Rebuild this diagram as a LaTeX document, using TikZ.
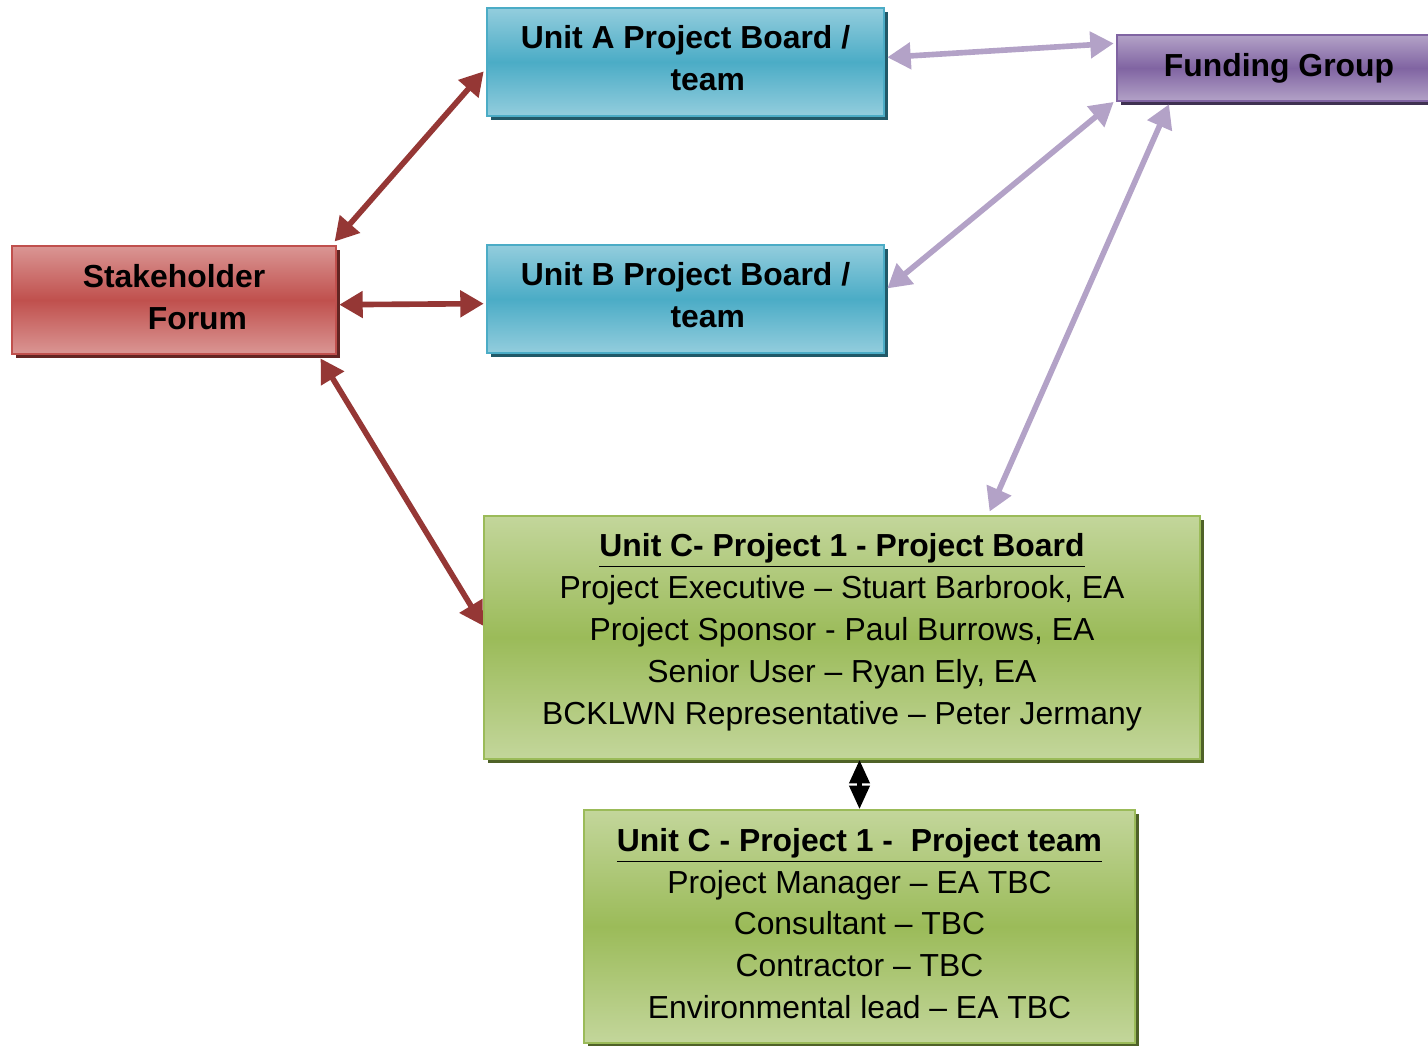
\documentclass[tikz,border=0pt]{standalone}
\usepackage{fontspec}
\setmainfont{Liberation Sans}
\usetikzlibrary{arrows.meta,shadows}

\definecolor{redlight}{HTML}{DA9694}
\definecolor{redmid}{HTML}{C0504D}
\definecolor{redshade}{HTML}{632523}
\definecolor{redarrow}{HTML}{953735}
\definecolor{bluelight}{HTML}{93CDDD}
\definecolor{bluemid}{HTML}{4BACC6}
\definecolor{blueshade}{HTML}{215968}
\definecolor{purplelight}{HTML}{B3A2C7}
\definecolor{purplemid}{HTML}{8064A2}
\definecolor{purpleshade}{HTML}{3F3151}
\definecolor{purplearrow}{HTML}{B3A2C7}
\definecolor{greenlight}{HTML}{C3D69B}
\definecolor{greenmid}{HTML}{9BBB59}
\definecolor{greenshade}{HTML}{4F6228}

\begin{document}
\begin{tikzpicture}[x=1.5cm,y=1.5cm,
    box/.style={line width=0.8pt, align=center, inner sep=0pt,
        font=\fontsize{13.6}{17.9}\selectfont},
    redbox/.style={box, draw=redmid, top color=redlight, bottom color=redlight,
        middle color=redmid, general shadow={fill=redshade, shadow xshift=1.8pt, shadow yshift=-1.8pt}},
    bluebox/.style={box, draw=bluemid, top color=bluelight, bottom color=bluelight,
        middle color=bluemid, general shadow={fill=blueshade, shadow xshift=1.8pt, shadow yshift=-1.8pt}},
    purplebox/.style={box, draw=purplemid, top color=purplelight, bottom color=purplelight,
        middle color=purplemid, general shadow={fill=purpleshade, shadow xshift=1.8pt, shadow yshift=-1.8pt}},
    greenbox/.style={box, draw=greenmid, top color=greenlight, bottom color=greenlight,
        middle color=greenmid, general shadow={fill=greenshade, shadow xshift=1.8pt, shadow yshift=-1.8pt}},
    bigtip/.tip={Triangle[length=10pt,width=11pt]},
    smalltip/.tip={Triangle[length=10pt,width=8.5pt]},
    redlink/.style={bigtip-bigtip, line width=2.4pt, draw=redarrow},
    purplelink/.style={bigtip-bigtip, line width=2.4pt, draw=purplearrow},
    blacklink/.style={smalltip-smalltip, line width=1.8pt, draw=black}]
    \useasboundingbox (0,0) rectangle (14.28,10.45);

    % Boxes
    \node[redbox, minimum width=4.86cm, minimum height=1.62cm, text depth=2.6pt] (forum) at (1.74,7.45)
        {\textbf{Stakeholder}\\\hspace*{20pt}\textbf{Forum}};
    \node[bluebox, minimum width=5.955cm, minimum height=1.62cm, text depth=3.4pt] (unita) at (6.855,9.83)
        {\textbf{Unit A Project Board /}\\\hspace*{19pt}\textbf{team}};
    \node[bluebox, minimum width=5.955cm, minimum height=1.62cm, text depth=3.4pt] (unitb) at (6.855,7.46)
        {\textbf{Unit B Project Board /}\\\hspace*{19pt}\textbf{team}};
    \node[purplebox, minimum width=4.86cm, minimum height=0.99cm] (funding) at (12.79,9.77)
        {\textbf{Funding Group}};
    \node[greenbox, minimum width=10.74cm, minimum height=3.645cm, text depth=7.2pt] (board) at (8.42,4.075)
        {\underline{\textbf{Unit C- Project 1 - Project Board}}\\
         Project Executive – Stuart Barbrook, EA\\
         Project Sponsor - Paul Burrows, EA\\
         Senior User – Ryan Ely, EA\\
         BCKLWN Representative – Peter Jermany};
    \node[greenbox, minimum width=8.265cm, minimum height=3.495cm, text depth=2.6pt] (team) at (8.595,1.185)
        {\underline{\textbf{Unit C - Project 1 -\ \ Project team}}\\
         Project Manager – EA TBC\\
         Consultant – TBC\\
         Contractor – TBC\\
         Environmental lead – EA TBC};

    % Links
    \draw[redlink] ([xshift=-1pt,yshift=1.5pt]forum.north east) -- ([xshift=-1pt,yshift=-4pt]unita.west);
    \draw[redlink] ([xshift=1pt,yshift=-2pt]forum.east) -- ([xshift=-1pt,yshift=-2pt]unitb.west);
    \draw[redlink] ([xshift=-7pt,yshift=-1.5pt]forum.south east) -- ([yshift=5pt]board.west);
    \draw[purplelink] ([xshift=1pt,yshift=2pt]unita.east) -- ([xshift=-1pt,yshift=-4pt]funding.north west);
    \draw[purplelink] ([xshift=1pt,yshift=4.5pt]unitb.east) -- ([xshift=-1pt]funding.south west);
    \draw[purplelink] ([xshift=63pt,yshift=1.5pt]board.north) -- ([xshift=22.6pt,yshift=-1pt]funding.south west);
    \draw[blacklink] (team.north |- board.south) -- (team.north);
\end{tikzpicture}
\end{document}
